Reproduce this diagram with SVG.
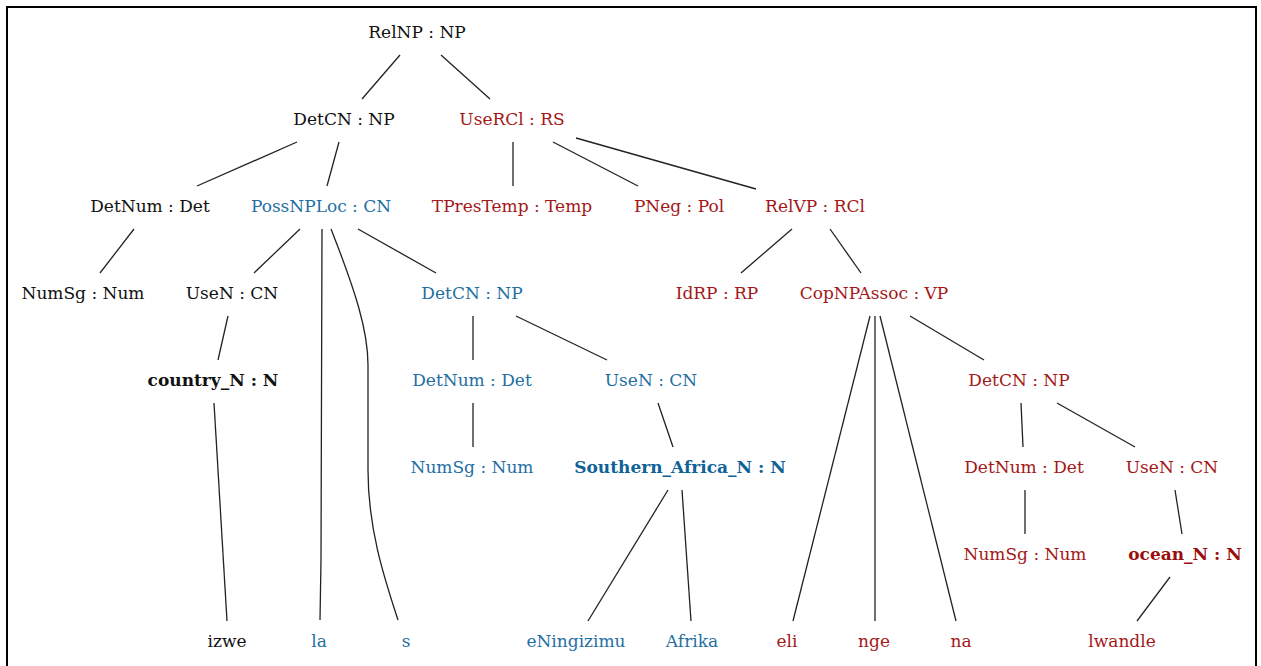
<svg xmlns="http://www.w3.org/2000/svg" width="1261" height="666" viewBox="0 0 1261 666">
<style>
text{font-family:"DejaVu Serif","Liberation Serif",serif;font-size:17px;text-anchor:middle}
.k{fill:#111}
.b{fill:#1f6fa3}
.r{fill:#a31818}
.bb{fill:#0e6298;font-weight:bold}
.kb{fill:#111;font-weight:bold}
.rb{fill:#9a0d0d;font-weight:bold}
#edges path,#edges line{stroke:#222;stroke-width:1.3;fill:none}
</style>
<rect x="0" y="0" width="1261" height="666" fill="#fff"/>
<rect x="7" y="7" width="1249" height="680" fill="none" stroke="#000" stroke-width="2"/>
<g id="edges">
<line x1="400" y1="55" x2="362" y2="99"/>
<line x1="441" y1="55" x2="490" y2="99"/>
<line x1="297" y1="142" x2="197" y2="186"/>
<line x1="339" y1="142" x2="327" y2="186"/>
<line x1="513" y1="142" x2="513" y2="186"/>
<line x1="553" y1="142" x2="638" y2="186"/>
<line x1="576" y1="138" x2="756" y2="189"/>
<line x1="134" y1="229" x2="100" y2="273"/>
<line x1="300" y1="229" x2="254" y2="273"/>
<path d="M322,229 L321,560 L320,620"/>
<path d="M331,229 C355,290 368,330 368,365 L368,470 C368,530 385,580 398,620"/>
<line x1="358" y1="229" x2="436" y2="273"/>
<line x1="792" y1="229" x2="741" y2="273"/>
<line x1="830" y1="229" x2="861" y2="273"/>
<line x1="228" y1="316" x2="218" y2="360"/>
<line x1="473" y1="316" x2="473" y2="360"/>
<line x1="516" y1="316" x2="607" y2="360"/>
<line x1="870" y1="316" x2="793" y2="621"/>
<line x1="875" y1="316" x2="875" y2="621"/>
<line x1="880" y1="316" x2="956" y2="621"/>
<line x1="910" y1="316" x2="984" y2="360"/>
<line x1="214" y1="403" x2="227" y2="621"/>
<line x1="473" y1="403" x2="473" y2="447"/>
<line x1="658" y1="403" x2="673" y2="447"/>
<line x1="1021" y1="403" x2="1023" y2="447"/>
<line x1="1057" y1="403" x2="1135" y2="447"/>
<line x1="668" y1="490" x2="588" y2="621"/>
<line x1="682" y1="490" x2="691" y2="621"/>
<line x1="1025" y1="490" x2="1025" y2="534"/>
<line x1="1175" y1="490" x2="1182" y2="534"/>
<line x1="1170" y1="577" x2="1137" y2="621"/>
</g>
<g id="n_relnp"><text class="k" x="417" y="38">RelNP : NP</text></g>
<g id="n_detcn1"><text class="k" x="344" y="125">DetCN : NP</text></g>
<g id="n_usercl"><text class="r" x="512" y="125">UseRCl : RS</text></g>
<g id="n_detnum1"><text class="k" x="150" y="212">DetNum : Det</text></g>
<g id="n_possnploc"><text class="b" x="321" y="212">PossNPLoc : CN</text></g>
<g id="n_tprestemp"><text class="r" x="512" y="212">TPresTemp : Temp</text></g>
<g id="n_pneg"><text class="r" x="679" y="212">PNeg : Pol</text></g>
<g id="n_relvp"><text class="r" x="815" y="212">RelVP : RCl</text></g>
<g id="n_numsg1"><text class="k" x="83" y="299">NumSg : Num</text></g>
<g id="n_usen1"><text class="k" x="232" y="299">UseN : CN</text></g>
<g id="n_detcn2"><text class="b" x="472" y="299">DetCN : NP</text></g>
<g id="n_idrp"><text class="r" x="717" y="299">IdRP : RP</text></g>
<g id="n_copnpassoc"><text class="r" x="874" y="299">CopNPAssoc : VP</text></g>
<g id="n_country"><text class="kb" x="213" y="386">country_N : N</text></g>
<g id="n_detnum2"><text class="b" x="472" y="386">DetNum : Det</text></g>
<g id="n_usen2"><text class="b" x="651" y="386">UseN : CN</text></g>
<g id="n_detcn3"><text class="r" x="1019" y="386">DetCN : NP</text></g>
<g id="n_numsg2"><text class="b" x="472" y="473">NumSg : Num</text></g>
<g id="n_southern"><text class="bb" x="680" y="473">Southern_Africa_N : N</text></g>
<g id="n_detnum3"><text class="r" x="1024" y="473">DetNum : Det</text></g>
<g id="n_usen3"><text class="r" x="1172" y="473">UseN : CN</text></g>
<g id="n_numsg3"><text class="r" x="1025" y="560">NumSg : Num</text></g>
<g id="n_ocean"><text class="rb" x="1185" y="560">ocean_N : N</text></g>
<g id="w_izwe"><text class="k" x="227" y="647">izwe</text></g>
<g id="w_la"><text class="b" x="319" y="647">la</text></g>
<g id="w_s"><text class="b" x="406" y="647">s</text></g>
<g id="w_eningizimu"><text class="b" x="576" y="647">eNingizimu</text></g>
<g id="w_afrika"><text class="b" x="692" y="647">Afrika</text></g>
<g id="w_eli"><text class="r" x="787" y="647">eli</text></g>
<g id="w_nge"><text class="r" x="874" y="647">nge</text></g>
<g id="w_na"><text class="r" x="961" y="647">na</text></g>
<g id="w_lwandle"><text class="r" x="1122" y="647">lwandle</text></g>
</svg>
